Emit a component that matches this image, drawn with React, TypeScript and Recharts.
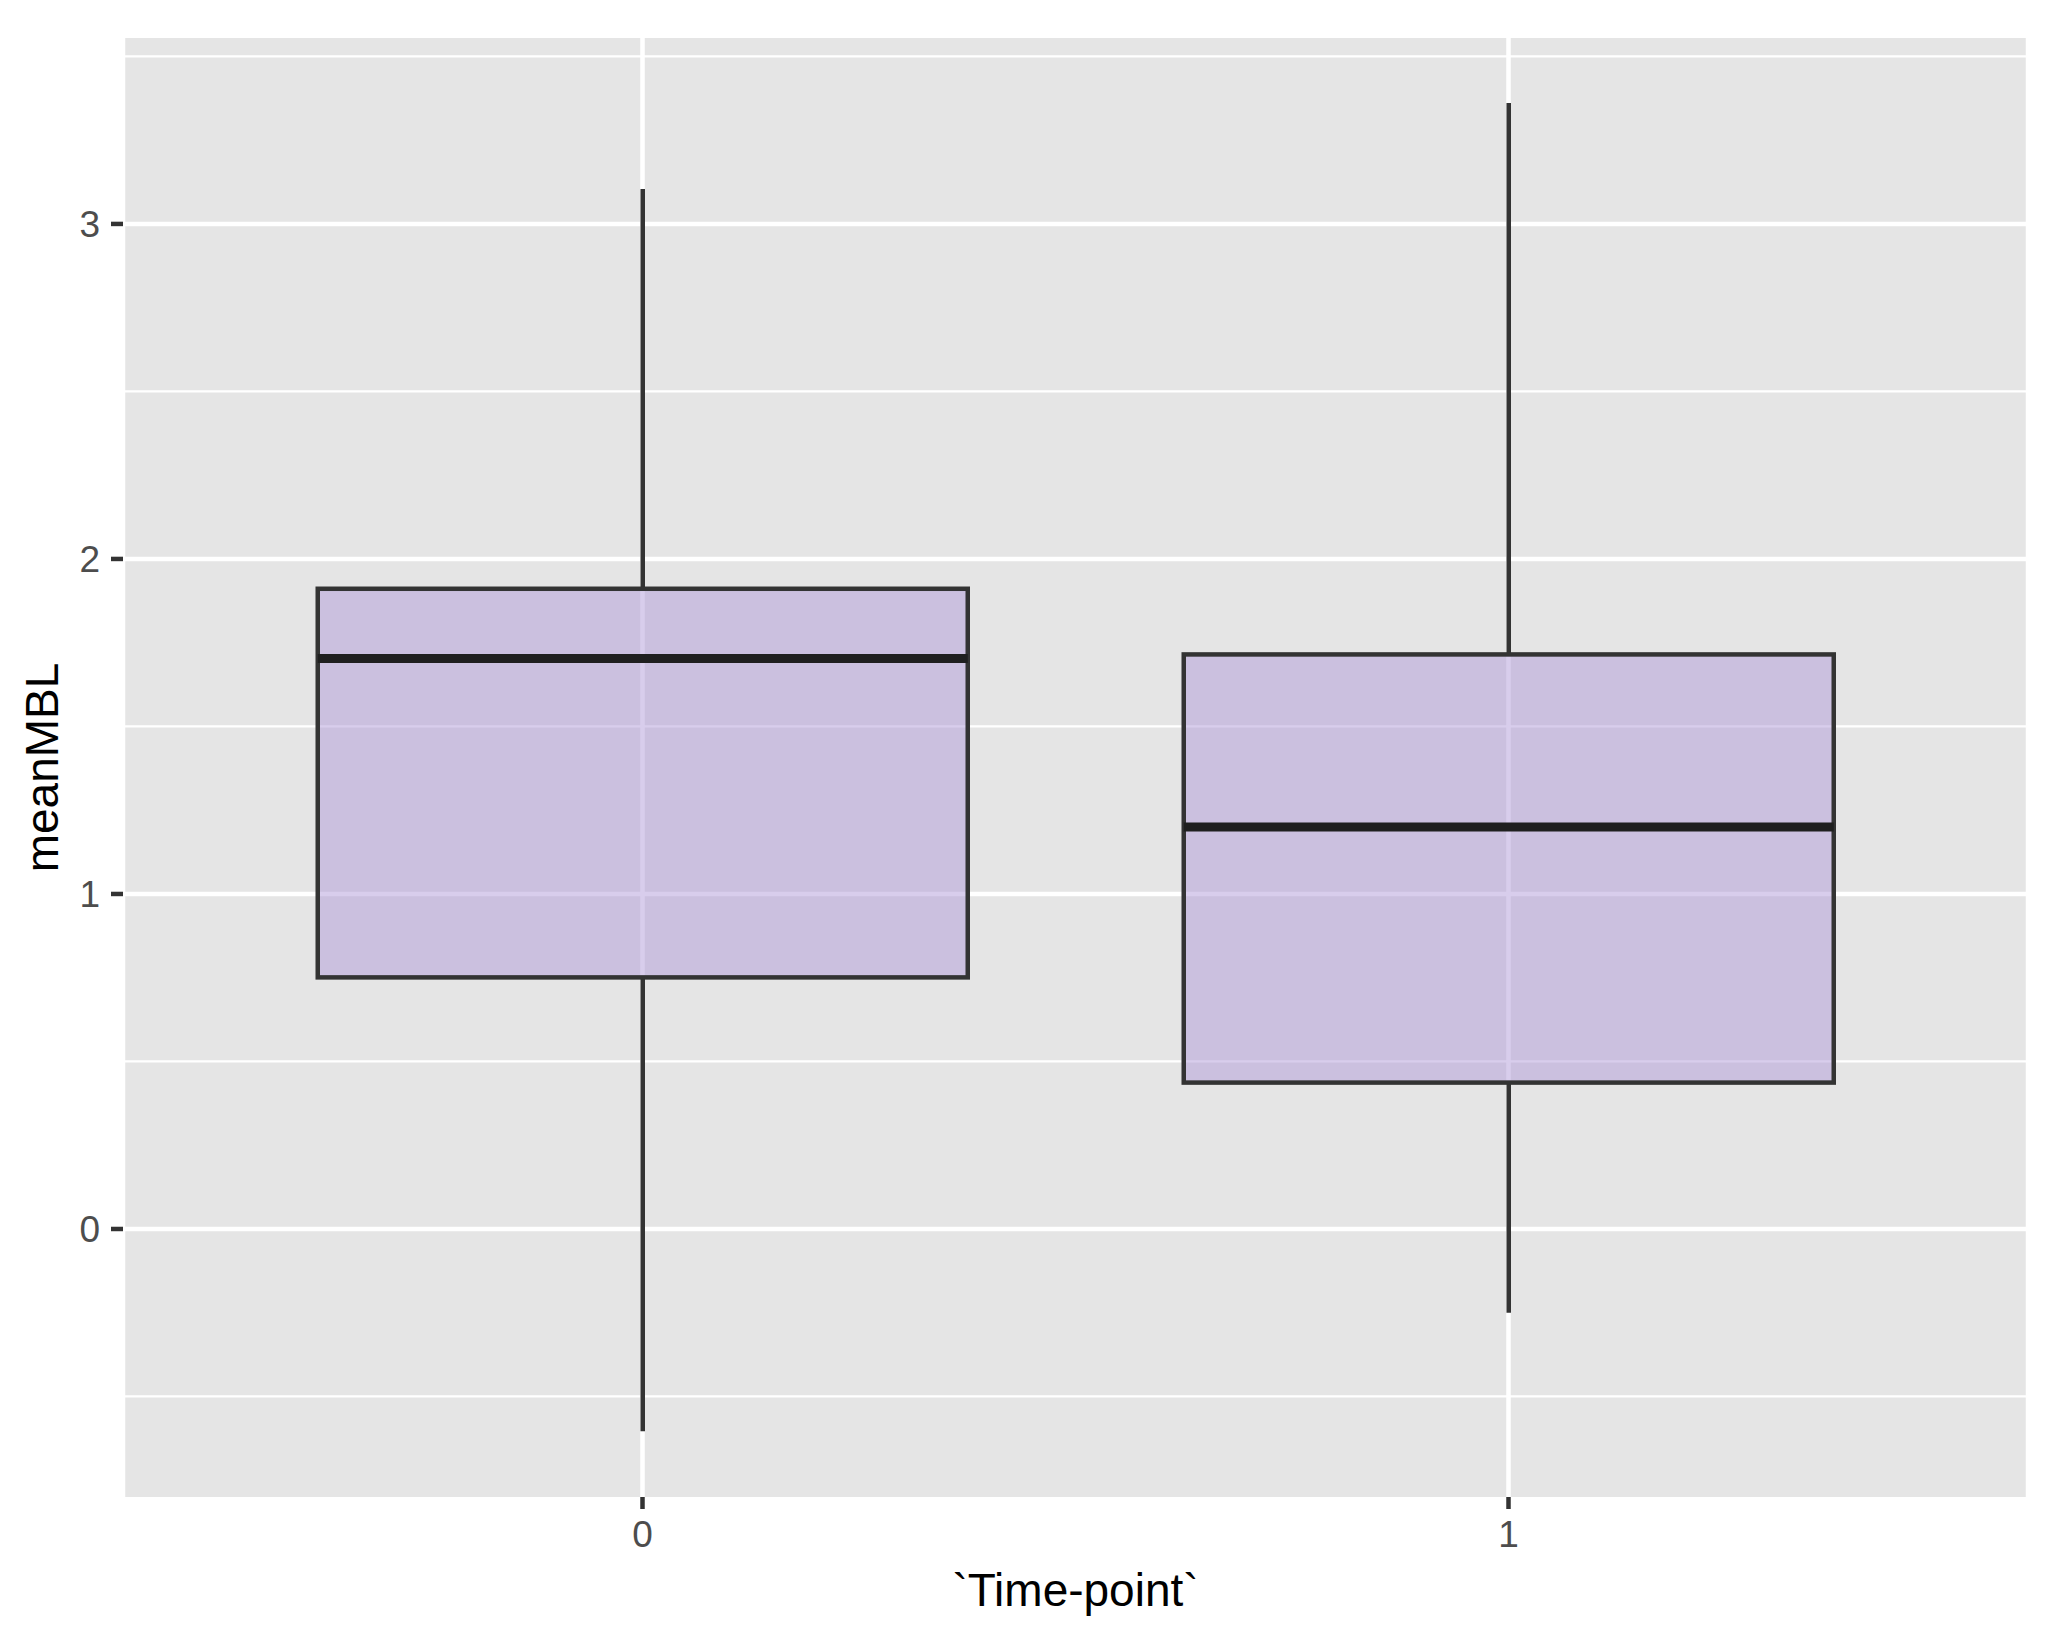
import React from "react";
import { ComposedChart, Bar, XAxis, YAxis, CartesianGrid, Label } from "recharts";

// ---- data ----
const categories = ["0", "1"];
const lowerWhisker = [-0.604, -0.25];
const firstQuartile = [0.751, 0.437];
const medians = [1.703, 1.2];
const thirdQuartile = [1.911, 1.715];
const upperWhisker = [3.104, 3.361];

const yTicks = [0, 1, 2, 3];
const yMinorBreaks = [-0.5, 0.5, 1.5, 2.5, 3.5];
const yDomain: [number, number] = [-0.8, 3.555];

const xTitle = "`Time-point`";
const yTitle = "meanMBL";

// ---- styles ----
const FONT = "'Liberation Sans', Arial, Helvetica, sans-serif";
const PANEL_BG = "#E5E5E5";
const BOX_FILL = "#B19CD9";
const OUTLINE = "#333333";
const MEDIAN = "#1f1f1f";
const TEXT_GREY = "#4D4D4D";

const data = categories.map((c, i) => ({
  cat: c,
  lo: lowerWhisker[i],
  q1: firstQuartile[i],
  med: medians[i],
  q3: thirdQuartile[i],
  hi: upperWhisker[i],
}));

// The Bar spans [lo, hi] through the library's y scale; the inner
// quartiles are placed by linear interpolation inside that scaled span.
const BoxShape = (props: any) => {
  const { x, y, width, height, payload } = props;
  if (!payload || width == null) return null;
  const top = Math.min(y, y + height);
  const bottom = Math.max(y, y + height);
  const { lo, hi, q1, q3, med } = payload;
  const py = (v: number) => top + ((hi - v) / (hi - lo)) * (bottom - top);
  const cx = x + width / 2;
  const yq3 = py(q3);
  const yq1 = py(q1);
  const ym = py(med);
  return (
    <g>
      <line x1={cx} x2={cx} y1={top} y2={yq3} stroke={OUTLINE} strokeWidth={4.5} />
      <line x1={cx} x2={cx} y1={yq1} y2={bottom} stroke={OUTLINE} strokeWidth={4.5} />
      <rect
        x={x}
        y={yq3}
        width={width}
        height={yq1 - yq3}
        fill={BOX_FILL}
        fillOpacity={0.5}
        stroke={OUTLINE}
        strokeWidth={4.5}
      />
      <line x1={x} x2={x + width} y1={ym} y2={ym} stroke={MEDIAN} strokeWidth={9} />
    </g>
  );
};

const YTitle = (props: any) => {
  const vb = props && props.viewBox && props.viewBox.height ? props.viewBox : { x: 0, y: 38, width: 123, height: 1459 };
  const bx = vb.x + 58;
  const cy = vb.y + vb.height / 2;
  return (
    <text
      x={bx}
      y={cy}
      transform={`rotate(-90, ${bx}, ${cy})`}
      textAnchor="middle"
      fontSize={46}
      fontFamily={FONT}
      fill="#000000"
    >
      {yTitle}
    </text>
  );
};

export default function App() {
  return (
    <div style={{ position: "absolute", left: 0, top: 0, width: 2068, height: 1648, background: "#fff" }}>
      <ComposedChart
        width={2068}
        height={1648}
        data={data}
        margin={{ top: 38, right: 40, bottom: 0, left: 0 }}
        barCategoryGap="12.5%"
      >
        <CartesianGrid
          fill={PANEL_BG}
          fillOpacity={1}
          stroke="#FFFFFF"
          strokeWidth={2.25}
          vertical={false}
          horizontalValues={yMinorBreaks}
        />
        <CartesianGrid stroke="#FFFFFF" strokeWidth={4.5} horizontalValues={yTicks} />
        <XAxis
          dataKey="cat"
          type="category"
          height={151}
          padding={{ left: 86.5, right: 86.5 }}
          axisLine={false}
          tickSize={12}
          tickMargin={12}
          tickLine={{ stroke: OUTLINE, strokeWidth: 4.5 }}
          tick={{ fontSize: 37, fill: TEXT_GREY, fontFamily: FONT }}
          interval={0}
        >
          <Label
            value={xTitle}
            position="insideBottom"
            offset={42}
            style={{ fontSize: 46, fill: "#000000", fontFamily: FONT }}
          />
        </XAxis>
        <YAxis
          type="number"
          width={123}
          domain={yDomain}
          allowDataOverflow
          ticks={yTicks}
          interval={0}
          axisLine={false}
          tickSize={12}
          tickMargin={11}
          tickLine={{ stroke: OUTLINE, strokeWidth: 4.5 }}
          tick={{ fontSize: 37, fill: TEXT_GREY, fontFamily: FONT }}
        >
          <Label content={YTitle} />
        </YAxis>
        <Bar
          dataKey={(d: any) => [d.lo, d.hi]}
          shape={BoxShape}
          isAnimationActive={false}
        />
      </ComposedChart>
    </div>
  );
}
